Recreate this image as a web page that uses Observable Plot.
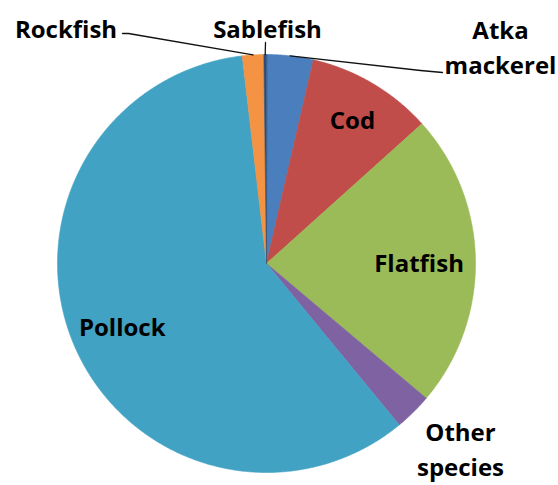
<!DOCTYPE html>
<html>
<head>
<meta charset="utf-8">
<script src="https://cdn.jsdelivr.net/npm/d3@7"></script>
<script src="https://cdn.jsdelivr.net/npm/@observablehq/plot@0.6"></script>
<style>
  html, body { margin: 0; padding: 0; background: #fff; }
  #chart svg { display: block; }
</style>
</head>
<body>
<div id="chart"></div>
<script>
// ---- data ----
const categories = ["Atka mackerel", "Cod", "Flatfish", "Other species", "Pollock", "Rockfish", "Sablefish"];
const shares = [3.6, 9.75, 22.8, 2.9, 59.1, 1.65, 0.2];
const labelTexts = ["Atka\nmackerel", "Cod", "Flatfish", "Other\nspecies", "Pollock", "Rockfish", "Sablefish"];

// ---- style / layout ----
const colors = ["#4A7EBD", "#C04D4A", "#9ABB57", "#7F62A2", "#42A2C3", "#F39343", "#2C4D75"];
const W = 558, H = 485;
const cx = 266, cy = 263, R = 209;           // pie centre (px) and radius
const insideRadius = {"Cod": 0.81, "Flatfish": 0.73, "Pollock": 0.75};
const outsidePos = {                         // label anchors in px
  "Atka mackerel": [500, 45],
  "Other species": [460, 447],
  "Rockfish": [65.5, 26.5],
  "Sablefish": [267, 26.5]
};
const leaderStarts = {                       // leader line start points in px
  "Rockfish": [[122, 33], [128, 33]],
  "Sablefish": [[265, 42]],
  "Atka mackerel": [[442, 72], [420, 70]]
};

// convert pixel positions to data units (data unit = 1px, origin at pie centre, y up)
const px = ([x, y]) => [x - cx, cy - y];

const table = categories.map((name, i) => ({name, value: shares[i], label: labelTexts[i]}));
const arcs = d3.pie().sort(null).value(d => d.value)(table);

// slice polygons
const slicePts = [];
for (const a of arcs) {
  slicePts.push({name: a.data.name, x: 0, y: 0});
  const n = Math.max(2, Math.ceil((a.endAngle - a.startAngle) / (Math.PI / 360)));
  for (let k = 0; k <= n; k++) {
    const t = a.startAngle + (a.endAngle - a.startAngle) * k / n;
    slicePts.push({name: a.data.name, x: R * Math.sin(t), y: R * Math.cos(t)});
  }
}

// labels
const labels = arcs.map(a => {
  const name = a.data.name;
  const mid = (a.startAngle + a.endAngle) / 2;
  let x, y;
  if (insideRadius[name] !== undefined) {
    x = insideRadius[name] * R * Math.sin(mid);
    y = insideRadius[name] * R * Math.cos(mid);
  } else {
    [x, y] = px(outsidePos[name]);
  }
  return {name, text: a.data.label, x, y};
});

// leader lines
const leaders = [];
for (const a of arcs) {
  const name = a.data.name;
  if (!leaderStarts[name]) continue;
  const mid = (a.startAngle + a.endAngle) / 2;
  for (const p of leaderStarts[name]) {
    const [x, y] = px(p);
    leaders.push({name, x, y});
  }
  leaders.push({name, x: R * Math.sin(mid), y: R * Math.cos(mid)});
}

const chart = Plot.plot({
  width: W,
  height: H,
  margin: 0,
  x: {domain: [-cx, W - cx], axis: null},
  y: {domain: [cy - H, cy], axis: null},
  color: {domain: categories, range: colors},
  style: {background: "#fff"},
  marks: [
    Plot.line(slicePts, {x: "x", y: "y", z: "name", fill: "name", stroke: "name", strokeWidth: 0.6, curve: "linear-closed"}),
    Plot.line(leaders, {x: "x", y: "y", z: "name", stroke: "#111", strokeWidth: 1.3}),
    Plot.text(labels, {
      x: "x", y: "y", text: "text",
      fontSize: 24, fontWeight: "bold", fontFamily: "Open Sans",
      fill: "#000", lineAnchor: "middle", lineHeight: 1.45
    })
  ]
});
document.getElementById("chart").appendChild(chart);
</script>
</body>
</html>
